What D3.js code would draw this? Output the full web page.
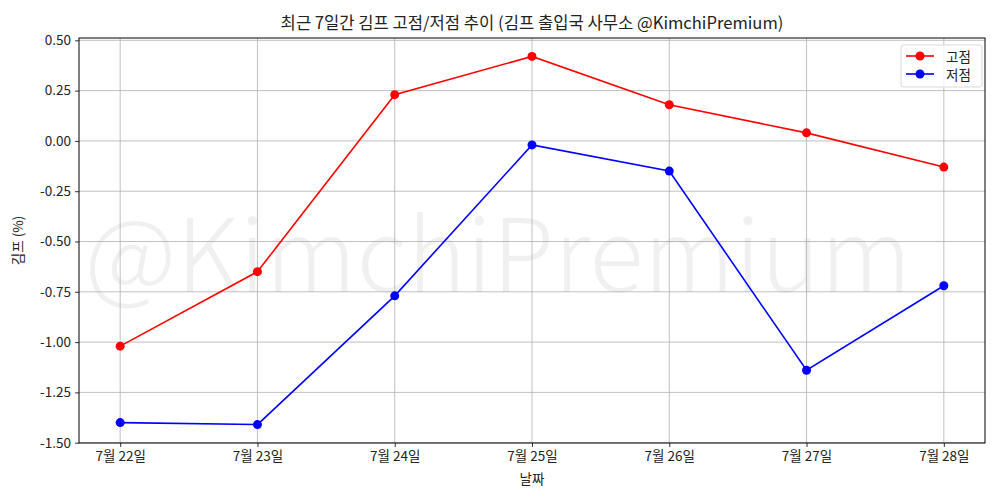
<!DOCTYPE html>
<html>
<head>
<meta charset="utf-8">
<script src="https://cdn.jsdelivr.net/npm/d3@7"></script>
<style>
  body { margin: 0; background: #fff; }
  svg text { font-family: "Noto Sans CJK KR", "Noto Sans", sans-serif; fill: #222; }
</style>
</head>
<body>
<div id="chart"></div>
<script>
// ── Data ──
const days = ['7월 22일', '7월 23일', '7월 24일', '7월 25일', '7월 26일', '7월 27일', '7월 28일'];
const highs = [-1.02, -0.65, 0.23, 0.42, 0.18, 0.04, -0.13];
const lows = [-1.40, -1.41, -0.77, -0.02, -0.15, -1.14, -0.72];
const yTicks = [0.5, 0.25, 0, -0.25, -0.5, -0.75, -1.0, -1.25, -1.5];
const seriesNames = ['고점', '저점'];
const seriesColors = ['#ff0000', '#0000ff'];

const W = 1000, H = 500;
const m = { left: 79, right: 15, top: 38, bottom: 57 };
const iw = W - m.left - m.right, ih = H - m.top - m.bottom;

const svg = d3.select('#chart').append('svg').attr('width', W).attr('height', H);

// ── Watermark ──
svg.append('text')
  .attr('x', 498).attr('y', 248)
  .attr('text-anchor', 'middle').attr('dominant-baseline', 'central')
  .attr('font-size', 101).attr('font-weight', 300)
  .style('fill', '#000').style('fill-opacity', 0.06)
  .text('@KimchiPremium');

// ── Scales (matplotlib-style 5% margins) ──
const x = d3.scaleLinear().domain([-0.3, days.length - 1 + 0.3]).range([0, iw]);
const all = highs.concat(lows);
const lo = d3.min(all), hi = d3.max(all), pad = (hi - lo) * 0.05;
const y = d3.scaleLinear().domain([lo - pad, hi + pad]).range([ih, 0]);

const g = svg.append('g').attr('transform', `translate(${m.left},${m.top})`);

// ── Grid ──
g.append('g').selectAll('line').data(days.map((d, i) => i)).join('line')
  .attr('x1', d => x(d)).attr('x2', d => x(d)).attr('y1', 0).attr('y2', ih)
  .attr('stroke', '#b0b0b0').attr('stroke-width', 0.8);
g.append('g').selectAll('line').data(yTicks).join('line')
  .attr('x1', 0).attr('x2', iw).attr('y1', d => y(d)).attr('y2', d => y(d))
  .attr('stroke', '#b0b0b0').attr('stroke-width', 0.8);

// ── Axes ──
const xAxis = g.append('g').attr('transform', `translate(0,${ih})`)
  .call(d3.axisBottom(x).tickValues(days.map((d, i) => i)).tickFormat(i => days[i]).tickSize(4).tickPadding(4));
const yAxis = g.append('g')
  .call(d3.axisLeft(y).tickValues(yTicks).tickFormat(d3.format('.2f')).tickSize(4).tickPadding(4));
[xAxis, yAxis].forEach(a => {
  a.select('.domain').remove();
  a.selectAll('line').attr('stroke', '#000').attr('stroke-width', 0.8);
  a.selectAll('text').attr('font-size', 13.5).style('fill', '#222');
});
yAxis.selectAll('text').text(function() { return d3.select(this).text().replace('−', '-'); });

g.append('rect').attr('width', iw).attr('height', ih)
  .attr('fill', 'none').attr('stroke', '#000').attr('stroke-width', 1);

// ── Lines ──
[highs, lows].forEach((vals, si) => {
  const line = d3.line().x((d, i) => x(i)).y(d => y(d));
  g.append('path').datum(vals).attr('d', line)
    .attr('fill', 'none').attr('stroke', seriesColors[si]).attr('stroke-width', 1.6);
  g.append('g').selectAll('circle').data(vals).join('circle')
    .attr('cx', (d, i) => x(i)).attr('cy', d => y(d)).attr('r', 4.5)
    .attr('fill', seriesColors[si]);
});

// ── Legend ──
const lg = g.append('g').attr('transform', `translate(${iw - 84},7)`);
lg.append('rect').attr('width', 81).attr('height', 42).attr('rx', 2.5)
  .attr('fill', '#fff').attr('fill-opacity', 0.8).attr('stroke', '#d9d9d9');
seriesNames.forEach((name, i) => {
  const ry = 11 + i * 18;
  lg.append('line').attr('x1', 5).attr('x2', 33).attr('y1', ry).attr('y2', ry)
    .attr('stroke', seriesColors[i]).attr('stroke-width', 1.6);
  lg.append('circle').attr('cx', 19).attr('cy', ry).attr('r', 4.5).attr('fill', seriesColors[i]);
  lg.append('text').attr('x', 45).attr('y', ry).attr('dominant-baseline', 'central')
    .attr('font-size', 13.5).text(name);
});

// ── Titles ──
svg.append('text').attr('x', m.left + iw / 2).attr('y', 29).attr('text-anchor', 'middle')
  .attr('font-size', 16.6).text('최근 7일간 김프 고점/저점 추이 (김프 출입국 사무소 @KimchiPremium)');
svg.append('text').attr('x', m.left + iw / 2).attr('y', 484).attr('text-anchor', 'middle')
  .attr('font-size', 13.5).text('날짜');
svg.append('text').attr('transform', `translate(23,${m.top + ih / 2}) rotate(-90)`)
  .attr('text-anchor', 'middle').attr('font-size', 13.5).text('김프 (%)');
</script>
</body>
</html>
